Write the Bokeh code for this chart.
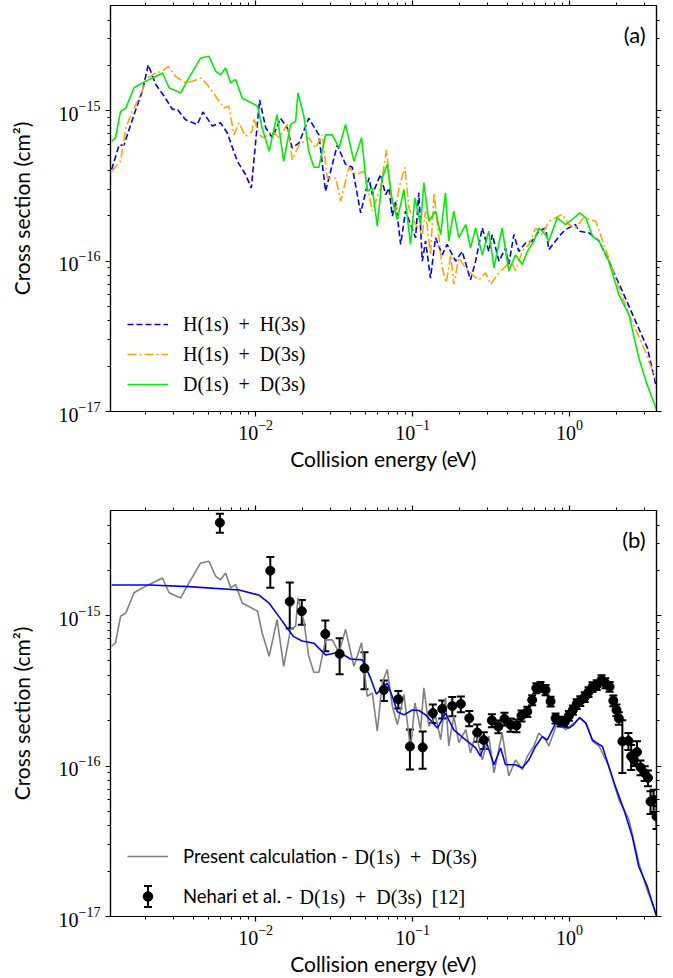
import numpy as np
from bokeh.plotting import figure
from bokeh.models import (Range1d, FixedTicker, LogAxis, CustomJSTickFormatter, Legend,
                          LegendItem, Whisker, TeeHead, ColumnDataSource, Label)
from bokeh.layouts import column
from bokeh.embed import file_html
from bokeh.resources import INLINE

# ---------------- data ----------------
# Panel (a): H(1s)+H(3s)
E_hh = [1.21e-3, 1.35e-3, 1.45e-3, 1.68e-3, 1.90e-3, 2.07e-3, 2.31e-3, 2.61e-3, 2.95e-3, 3.17e-3,
        3.58e-3, 4.25e-3, 4.62e-3, 5.30e-3, 5.98e-3, 6.60e-3, 7.65e-3, 8.63e-3, 9.39e-3, 1.06e-2,
        1.16e-2, 1.28e-2, 1.44e-2, 1.59e-2, 1.71e-2, 1.89e-2, 2.18e-2, 2.53e-2, 2.79e-2, 3.31e-2,
        3.74e-2, 4.13e-2, 4.67e-2, 5.27e-2, 5.54e-2, 6.25e-2, 6.73e-2, 7.07e-2, 7.43e-2, 7.80e-2,
        8.39e-2, 9.02e-2, 9.71e-2, 0.1045, 0.1096, 0.1153, 0.121, 0.130, 0.140, 0.1545,
        0.166, 0.188, 0.207, 0.234, 0.252, 0.278, 0.306, 0.322, 0.355, 0.391,
        0.410, 0.442, 0.475, 0.525, 0.578, 0.637, 0.703, 0.738, 0.814, 0.877,
        0.944, 1.09, 1.15, 1.33, 1.54, 1.78, 2.17, 2.63, 3.13, 3.58]
S_hh = [4.06e-16, 5.9e-16, 5.9e-16, 9.4e-16, 1.35e-15, 2.02e-15, 1.49e-15, 1.25e-15, 1.02e-15, 1.02e-15,
        8.7e-16, 8.1e-16, 9.8e-16, 7.9e-16, 8.3e-16, 7.1e-16, 4.6e-16, 3.76e-16, 3.06e-16, 1.18e-15,
        7.7e-16, 6.6e-16, 8.9e-16, 7.7e-16, 5.65e-16, 6.1e-16, 8.9e-16, 6.9e-16, 2.91e-16, 5.9e-16,
        4.4e-16, 4.2e-16, 2.09e-16, 3.57e-16, 2.77e-16, 3.76e-16, 2.77e-16, 3.06e-16, 1.99e-16, 2.50e-16,
        1.29e-16, 2.15e-16, 1.75e-16, 1.43e-16, 2.84e-16, 9.98e-17, 1.36e-16, 7.7e-17, 1.43e-16, 1.10e-16,
        1.29e-16, 9.98e-17, 1.16e-16, 7.5e-17, 9.98e-17, 1.66e-16, 1.16e-16, 1.50e-16, 9.98e-17, 1.22e-16,
        9.5e-17, 1.50e-16, 1.16e-16, 1.32e-16, 1.36e-16, 1.58e-16, 1.66e-16, 1.19e-16, 1.36e-16, 1.50e-16,
        1.62e-16, 1.75e-16, 1.58e-16, 1.54e-16, 1.36e-16, 9.98e-17, 6.3e-17, 3.99e-17, 2.65e-17, 1.44e-17]

# Panel (a): H(1s)+D(3s)
E_hd = [1.21e-3, 1.38e-3, 1.49e-3, 1.64e-3, 1.81e-3, 2.04e-3, 2.31e-3, 2.55e-3, 2.78e-3, 3.09e-3,
        3.58e-3, 3.95e-3, 4.47e-3, 4.92e-3, 5.56e-3, 6.28e-3, 6.76e-3, 7.28e-3, 7.83e-3, 8.63e-3,
        9.52e-3, 9.75e-3, 1.05e-2, 1.13e-2, 1.28e-2, 1.41e-2, 1.59e-2, 1.71e-2, 1.89e-2, 2.18e-2,
        2.41e-2, 2.66e-2, 2.86e-2, 3.24e-2, 3.48e-2, 3.93e-2, 4.34e-2, 4.90e-2, 5.54e-2, 6.25e-2,
        6.83e-2, 7.24e-2, 7.80e-2, 8.18e-2, 8.94e-2, 9.47e-2, 0.1045, 0.1153, 0.121, 0.130,
        0.137, 0.147, 0.1545, 0.164, 0.175, 0.183, 0.197, 0.218, 0.240, 0.264,
        0.292, 0.314, 0.346, 0.382, 0.421, 0.453, 0.500, 0.551, 0.607, 0.670,
        0.738, 0.815, 0.899, 0.991, 1.09, 1.23, 1.47, 1.69, 1.96, 2.39,
        2.91, 3.58]
S_hd = [3.96e-16, 4.61e-16, 7.7e-16, 9.9e-16, 1.21e-15, 1.65e-15, 1.78e-15, 1.83e-15, 1.97e-15, 1.69e-15,
        1.53e-15, 1.57e-15, 1.65e-15, 1.49e-15, 1.25e-15, 1.04e-15, 1.07e-15, 6.9e-16, 8.3e-16, 6.76e-16,
        7.3e-16, 8.9e-16, 6.9e-16, 6.6e-16, 7.3e-16, 6.6e-16, 8.1e-16, 4.72e-16, 5.9e-16, 6.6e-16,
        5.65e-16, 6.9e-16, 3.57e-16, 3.57e-16, 2.50e-16, 4.2e-16, 3.76e-16, 3.96e-16, 2.15e-16, 3.06e-16,
        5.5e-16, 2.77e-16, 2.15e-16, 3.06e-16, 4.2e-16, 2.26e-16, 1.75e-16, 1.50e-16, 2.15e-16, 1.10e-16,
        2.84e-16, 1.43e-16, 9.0e-17, 7.2e-17, 1.10e-16, 7.0e-17, 1.05e-16, 9.0e-17, 8.1e-17, 7.5e-17,
        8.35e-17, 7.0e-17, 8.1e-17, 9.0e-17, 9.98e-17, 8.6e-17, 1.16e-16, 1.29e-16, 1.66e-16, 1.50e-16,
        1.84e-16, 1.94e-16, 2.04e-16, 1.75e-16, 1.66e-16, 1.94e-16, 1.84e-16, 1.22e-16, 7.7e-17, 4.41e-17,
        2.79e-17, 1.59e-17]

# Panel (a) and (b): D(1s)+D(3s) (present calculation)
E_dd = [1.21e-3, 1.28e-3, 1.38e-3, 1.49e-3, 1.68e-3, 1.90e-3, 2.20e-3, 2.55e-3, 2.81e-3, 3.33e-3,
        3.76e-3, 4.47e-3, 5.04e-3, 5.56e-3, 5.98e-3, 6.44e-3, 6.93e-3, 7.46e-3, 8.22e-3, 9.06e-3,
        1.03e-2, 1.10e-2, 1.22e-2, 1.37e-2, 1.51e-2, 1.67e-2, 1.80e-2, 1.86e-2, 2.03e-2, 2.18e-2,
        2.35e-2, 2.53e-2, 2.79e-2, 3.08e-2, 3.40e-2, 3.74e-2, 4.23e-2, 4.73e-2, 5.14e-2, 5.54e-2,
        5.96e-2, 6.41e-2, 6.90e-2, 7.43e-2, 8.00e-2, 8.81e-2, 9.71e-2, 0.1035, 0.1125, 0.118,
        0.127, 0.140, 0.151, 0.162, 0.170, 0.183, 0.197, 0.218, 0.234, 0.252,
        0.278, 0.306, 0.330, 0.372, 0.410, 0.453, 0.500, 0.538, 0.593, 0.637,
        0.703, 0.738, 0.835, 0.944, 1.04, 1.16, 1.27, 1.40, 1.54, 1.78,
        2.06, 2.39, 2.76, 3.09, 3.58]
S_dd = [6.26e-16, 6.6e-16, 9.9e-16, 1.04e-15, 1.42e-15, 1.53e-15, 1.65e-15, 1.78e-15, 1.42e-15, 1.31e-15,
        1.65e-15, 2.24e-15, 2.30e-15, 1.83e-15, 1.73e-15, 1.92e-15, 1.53e-15, 1.61e-15, 1.21e-15, 1.15e-15,
        1.07e-15, 7.7e-16, 5.37e-16, 9.4e-16, 4.6e-16, 8.1e-16, 8.5e-16, 1.31e-15, 9.2e-16, 5.37e-16,
        4.2e-16, 4.2e-16, 6.9e-16, 6.9e-16, 5.65e-16, 8.1e-16, 4.6e-16, 6.6e-16, 2.91e-16, 3.06e-16,
        1.71e-16, 3.57e-16, 4.4e-16, 2.50e-16, 1.89e-16, 2.99e-16, 1.29e-16, 2.63e-16, 1.75e-16, 3.31e-16,
        1.84e-16, 2.15e-16, 1.50e-16, 2.84e-16, 1.36e-16, 2.15e-16, 1.43e-16, 1.75e-16, 1.22e-16, 1.66e-16,
        1.10e-16, 1.58e-16, 9.0e-17, 1.66e-16, 8.6e-17, 1.10e-16, 9.5e-17, 1.16e-16, 1.36e-16, 1.66e-16,
        1.50e-16, 1.36e-16, 1.94e-16, 1.75e-16, 1.89e-16, 2.09e-16, 1.94e-16, 1.46e-16, 1.36e-16, 9.98e-17,
        5.99e-17, 4.41e-17, 2.28e-17, 1.55e-17, 1.03e-17]

# Panel (b): convolved calculation (blue)
E_conv = [1.21e-3, 2.09e-3, 3.76e-3, 7.83e-3, 1.05e-2, 1.22e-2, 1.41e-2, 1.59e-2, 1.75e-2, 1.98e-2,
          2.35e-2, 2.79e-2, 3.40e-2, 4.03e-2, 4.79e-2, 5.40e-2, 5.87e-2, 6.90e-2, 7.43e-2, 8.00e-2,
          8.81e-2, 9.96e-2, 0.110, 0.121, 0.144, 0.162, 0.183, 0.212, 0.252, 0.271,
          0.292, 0.330, 0.364, 0.391, 0.453, 0.500, 0.551, 0.607, 0.670, 0.721,
          0.815, 0.899, 0.991, 1.06, 1.16, 1.27, 1.40, 1.50, 1.62, 1.78,
          1.96, 2.22, 2.51, 2.76, 3.13, 3.58]
S_conv = [1.60e-15, 1.60e-15, 1.56e-15, 1.48e-15, 1.37e-15, 1.21e-15, 9.85e-16, 8.25e-16, 7.25e-16, 6.79e-16,
          6.56e-16, 5.48e-16, 5.71e-16, 5.15e-16, 5.08e-16, 3.84e-16, 3.01e-16, 3.56e-16, 2.90e-16, 2.30e-16,
          2.19e-16, 2.36e-16, 2.34e-16, 2.19e-16, 1.79e-16, 2.25e-16, 1.74e-16, 1.53e-16, 1.32e-16, 1.16e-16,
          1.49e-16, 1.02e-16, 1.32e-16, 1.02e-16, 1.02e-16, 9.7e-17, 1.10e-16, 1.35e-16, 1.57e-16, 1.49e-16,
          1.93e-16, 1.83e-16, 1.79e-16, 1.88e-16, 2.10e-16, 1.93e-16, 1.49e-16, 1.42e-16, 1.35e-16, 9.9e-17,
          7.3e-17, 5.12e-17, 3.40e-17, 2.15e-17, 1.58e-17, 1.00e-17]

# Panel (b): Nehari et al. measurement
E_exp = [5.92e-3, 1.24e-2, 1.65e-2, 1.97e-2, 2.78e-2, 3.43e-2, 4.94e-2, 6.56e-2, 8.11e-2, 9.62e-2,
         0.116, 0.1346, 0.1545, 0.179, 0.203, 0.2296, 0.258, 0.284, 0.320, 0.352,
         0.385, 0.421, 0.459, 0.494, 0.538, 0.578, 0.614, 0.653, 0.703, 0.757,
         0.815, 0.877, 0.933, 0.990, 1.05, 1.11, 1.17, 1.25, 1.32, 1.40,
         1.49, 1.60, 1.69, 1.80, 1.90, 1.99, 2.06, 2.17, 2.37, 2.47,
         2.57, 2.69, 2.83, 3.01, 3.16, 3.28, 3.43, 3.58]
S_exp = [4.15e-15, 1.99e-15, 1.24e-15, 1.07e-15, 7.55e-16, 5.57e-16, 4.47e-16, 3.21e-16, 2.78e-16, 1.35e-16,
         1.33e-16, 2.25e-16, 2.40e-16, 2.51e-16, 2.59e-16, 2.08e-16, 1.67e-16, 1.49e-16, 2.01e-16, 1.83e-16,
         2.06e-16, 1.88e-16, 1.86e-16, 2.16e-16, 2.30e-16, 2.75e-16, 3.30e-16, 3.37e-16, 3.21e-16, 2.69e-16,
         2.08e-16, 1.98e-16, 1.97e-16, 2.16e-16, 2.36e-16, 2.59e-16, 2.71e-16, 2.88e-16, 3.11e-16, 3.36e-16,
         3.46e-16, 3.74e-16, 3.56e-16, 3.37e-16, 2.72e-16, 2.36e-16, 2.08e-16, 1.46e-16, 1.47e-16, 1.16e-16,
         1.10e-16, 1.24e-16, 9.8e-17, 8.97e-17, 8.35e-17, 5.81e-17, 5.96e-17, 4.62e-17]
D_exp = [0.60e-15, 0.46e-15, 0.42e-15, 0.20e-15, 1.75e-16, 1.5e-16, 1.23e-16, 0.5e-16, 0.37e-16, 0.40e-16,
         0.37e-16, 0.32e-16, 0.33e-16, 0.37e-16, 0.31e-16, 0.24e-16, 0.22e-16, 0.19e-16, 0.2e-16, 0.18e-16,
         0.2e-16, 0.19e-16, 0.18e-16, 0.18e-16, 0.18e-16, 0.21e-16, 0.25e-16, 0.25e-16, 0.25e-16, 0.2e-16,
         0.16e-16, 0.15e-16, 0.15e-16, 0.16e-16, 0.17e-16, 0.19e-16, 0.2e-16, 0.21e-16, 0.23e-16, 0.25e-16,
         0.26e-16, 0.28e-16, 0.27e-16, 0.25e-16, 0.22e-16, 0.21e-16, 0.2e-16, 0.56e-16, 0.19e-16, 0.22e-16,
         0.1e-16, 0.22e-16, 0.11e-16, 0.1e-16, 0.1e-16, 1.0e-17, 1.0e-17, 0.8e-17]

# axes
X_RANGE = (1.19e-3, 3.58)
Y_RANGE = (1.0e-17, 5.0e-15)
X_MAJOR = [1e-2, 1e-1, 1e0]
Y_MAJOR = [1e-17, 1e-16, 1e-15]
X_MINOR = [m * 10.0 ** e for e in (-3, -2, -1, 0) for m in range(2, 10)]
Y_MINOR = [m * 10.0 ** e for e in (-17, -16, -15) for m in range(2, 10)]
X_LABEL = "Collision energy (eV)"
Y_LABEL = "Cross section (cm\u00b2)"
TAG_X, TAG_Y = 3.05, 3.2e-15

SANS = "Lato"
SERIF = "Liberation Serif"


def style_axis(ax):
    ax.axis_line_color = "black"
    ax.axis_line_width = 1.2
    ax.major_tick_line_color = "black"
    ax.major_tick_line_width = 1.2
    ax.minor_tick_line_color = "black"
    ax.minor_tick_line_width = 1
    ax.major_tick_in = 0
    ax.major_tick_out = 5
    ax.minor_tick_in = 0
    ax.minor_tick_out = 3
    ax.major_label_text_font = SERIF
    ax.major_label_text_font_size = "20px"
    ax.major_label_text_color = "black"
    ax.axis_label_text_font = SANS
    ax.axis_label_text_font_size = "21px"
    ax.axis_label_text_font_style = "normal"
    ax.axis_label_text_color = "black"


def make_panel(tag, border_top, border_bottom):
    p = figure(frame_width=546, frame_height=406,
               x_axis_type="log", y_axis_type="log",
               x_range=Range1d(*X_RANGE), y_range=Range1d(*Y_RANGE),
               output_backend="svg", toolbar_location=None,
               min_border_left=110, min_border_right=15,
               min_border_top=border_top, min_border_bottom=border_bottom)
    p.grid.visible = False
    p.outline_line_color = "black"
    p.outline_line_width = 1.2
    p.background_fill_color = "white"
    p.border_fill_color = "white"
    xa = p.below[0]
    ya = p.left[0]
    xa.ticker = FixedTicker(ticks=X_MAJOR, minor_ticks=X_MINOR)
    ya.ticker = FixedTicker(ticks=Y_MAJOR, minor_ticks=Y_MINOR)
    xa.axis_label = X_LABEL
    ya.axis_label = Y_LABEL
    style_axis(xa)
    style_axis(ya)
    xa.major_label_standoff = 3
    xa.axis_label_standoff = 3
    ya.major_label_standoff = 5
    ya.axis_label_standoff = 22

    top = LogAxis(ticker=FixedTicker(ticks=X_MAJOR, minor_ticks=X_MINOR),
                  formatter=CustomJSTickFormatter(code="return ''"))
    style_axis(top)
    top.major_label_standoff = 0
    p.add_layout(top, "above")
    right = LogAxis(ticker=FixedTicker(ticks=Y_MAJOR, minor_ticks=Y_MINOR),
                    formatter=CustomJSTickFormatter(code="return ''"))
    style_axis(right)
    right.major_label_standoff = 0
    p.add_layout(right, "right")

    p.add_layout(Label(x=TAG_X, y=TAG_Y, text=tag, text_align="right",
                       text_baseline="middle", text_font=SANS,
                       text_font_size="22px", text_color="black"))
    return p


# ---------------- panel (a) ----------------
p1 = make_panel("(a)", 5, 94)
r_hh = p1.line(E_hh, S_hh, line_color="#0000ff", line_width=1.6, line_dash="6 3")
r_hd = p1.line(E_hd, S_hd, line_color="#ffa500", line_width=1.6, line_dash="9 3 2 3")
r_dd = p1.line(E_dd, S_dd, line_color="#00ee00", line_width=1.6)
leg_a = Legend(items=[LegendItem(label="H(1s)\u2002+\u2002H(3s)", renderers=[r_hh]),
                      LegendItem(label="H(1s)\u2002+\u2002D(3s)", renderers=[r_hd]),
                      LegendItem(label="D(1s)\u2002+\u2002D(3s)", renderers=[r_dd])],
               location=(17, 15), padding=0, margin=0, spacing=6,
               glyph_width=41, glyph_height=24, label_height=24, label_standoff=15,
               label_text_font=SERIF, label_text_font_size="20px", label_text_color="black",
               background_fill_alpha=0, border_line_alpha=0)
p1.add_layout(leg_a)

# ---------------- panel (b) ----------------
p2 = make_panel("(b)", 5, 60)
r_gray = p2.line(E_dd, S_dd, line_color="#808080", line_width=1.6)
r_conv = p2.line(E_conv, S_conv, line_color="#0000ff", line_width=1.6)
s_exp = np.array(S_exp)
d_exp = np.array(D_exp)
src = ColumnDataSource(dict(x=E_exp, y=S_exp, lo=s_exp - d_exp, hi=s_exp + d_exp))
p2.add_layout(Whisker(source=src, base="x", lower="lo", upper="hi", dimension="height",
                      line_color="black", line_width=2,
                      upper_head=TeeHead(size=8, line_color="black", line_width=2),
                      lower_head=TeeHead(size=8, line_color="black", line_width=2)))
r_exp = p2.scatter("x", "y", source=src, size=9, color="black")

leg_b = Legend(items=[LegendItem(label="Present calculation -", renderers=[r_gray]),
                      LegendItem(label="Nehari et al. -", renderers=[r_exp])],
               location=(17, 8), padding=0, margin=0, spacing=16,
               glyph_width=41, glyph_height=24, label_height=24, label_standoff=15,
               label_text_font=SANS, label_text_font_size="18.5px", label_text_color="black",
               background_fill_alpha=0, border_line_alpha=0)
p2.add_layout(leg_b)
# error-bar symbol of the legend entry (screen units of the frame)
leg_bar = ColumnDataSource(dict(b=[37.5], lo=[9.5], hi=[30.5]))
p2.add_layout(Whisker(source=leg_bar, base="b", lower="lo", upper="hi", dimension="height",
                      base_units="screen", lower_units="screen", upper_units="screen",
                      line_color="black", line_width=2,
                      upper_head=TeeHead(size=8, line_color="black", line_width=2),
                      lower_head=TeeHead(size=8, line_color="black", line_width=2)))
p2.add_layout(Label(x=244, y=60, x_units="screen", y_units="screen",
                    text="D(1s)\u2002+\u2002D(3s)", text_baseline="middle",
                    text_font=SERIF, text_font_size="20px", text_color="black"))
p2.add_layout(Label(x=189, y=20, x_units="screen", y_units="screen",
                    text="D(1s)\u2002+\u2002D(3s)\u2002[12]", text_baseline="middle",
                    text_font=SERIF, text_font_size="20px", text_color="black"))

layout = column(p1, p2, spacing=0)
open("out.html", "w").write(file_html(layout, INLINE))
